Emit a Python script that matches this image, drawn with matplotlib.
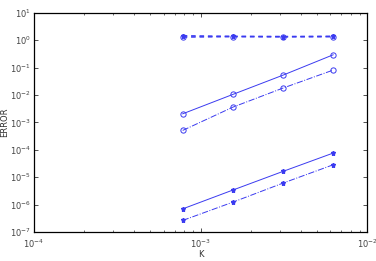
import matplotlib
matplotlib.use("Agg")
import matplotlib.pyplot as plt
import numpy as np

K = [1/1280, 1/640, 1/320, 1/160]
dash_circle = [1.30, 1.35, 1.33, 1.35]
dash_star = [1.45, 1.38, 1.36, 1.38]
solid_circle = [2.06e-3, 1.05e-2, 5.3e-2, 0.293]
dashdot_circle = [5.1e-4, 3.6e-3, 1.79e-2, 8.1e-2]
solid_star = [7.0e-7, 3.4e-6, 1.63e-5, 7.6e-5]
dashdot_star = [2.65e-7, 1.23e-6, 6.1e-6, 2.84e-5]

c = '#3a3af0'
fig = plt.figure(figsize=(3.76, 2.61), dpi=100)
ax = fig.add_axes([0.0904, 0.111, 0.886, 0.840])

ms_c = 3.8
ms_s = 3.6
ax.plot(K, dash_circle, color=c, lw=1.1, ls=(0, (3, 2.5)), marker='o', mfc='none', mec=c, ms=ms_c, mew=0.7)
ax.plot(K, dash_star, color=c, lw=1.1, ls=(0, (3, 2.5)), marker='*', mfc=c, mec=c, ms=ms_s)
ax.plot(K, solid_circle, '-', color=c, lw=0.7, marker='o', mfc='none', mec=c, ms=ms_c, mew=0.7)
ax.plot(K, dashdot_circle, '-.', color=c, lw=0.7, marker='o', mfc='none', mec=c, ms=ms_c, mew=0.7)
ax.plot(K, solid_star, '-', color=c, lw=0.7, marker='*', mfc=c, mec=c, ms=ms_s)
ax.plot(K, dashdot_star, '-.', color=c, lw=0.7, marker='*', mfc=c, mec=c, ms=ms_s)

ax.set_xscale('log')
ax.set_yscale('log')
ax.set_xlim(1e-4, 1e-2)
ax.set_ylim(1e-7, 1e1)
ax.set_yticks([10.0**e for e in range(-7, 2)])
ax.tick_params(which='both', direction='in', top=True, right=True, labelsize=6, colors='#333333', labelcolor='#444444')
ax.tick_params(which='major', length=3, width=0.6, pad=2)
ax.tick_params(axis='x', which='major', pad=4)
ax.tick_params(which='minor', length=1.5, width=0.5)
ax.tick_params(axis='y', which='minor', left=False, right=False)
for s in ax.spines.values():
    s.set_linewidth(0.9)
ax.set_xlabel('K', fontsize=6, labelpad=0, color='#333333')
ax.set_ylabel('ERROR', fontsize=6, labelpad=0, color='#333333')
ax.yaxis.set_label_coords(-0.075, 0.5)
fig.savefig('out.png', dpi=100)
